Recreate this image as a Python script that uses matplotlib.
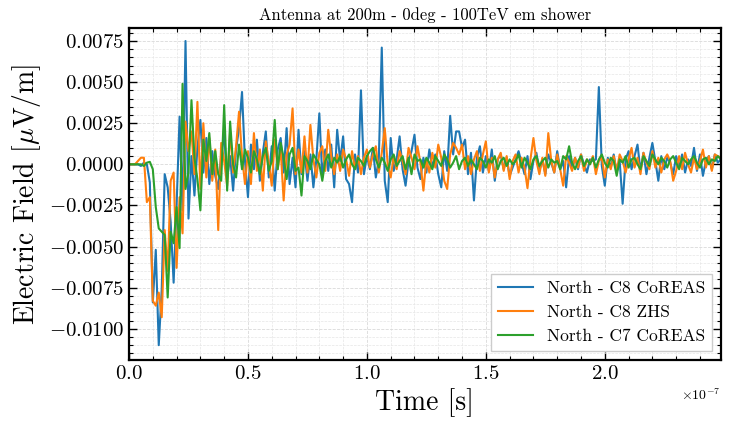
import numpy as np
import matplotlib
matplotlib.use("Agg")
import matplotlib.pyplot as plt
from matplotlib.ticker import MultipleLocator

# sampling grid (ns), 1.25 ns steps
tiempo_ns = np.arange(0, 250, 1.25)

# field values in units of 1e-3 uV/m
c8_coreas = [
    0, 0, 0, 0, -0.1, 0.1, 0.0, -1.1, -8.4, -5.2,
    -11.0, -7.6, -0.6, -1.4, -3.5, -7.2, -2.5, 2.9, -2.8, 7.5,
    -3.3, 0.5, -1.9, 1.0, 2.7, -0.5, 1.6, -1.2, 0.8, -0.7,
    -1.5, 0.6, 1.8, -0.9, 0.5, -1.6, 0.9, 2.2, 4.4, 0.2,
    -2.0, 1.2, -0.3, 1.5, -1.0, 0.7, 2.0, -0.8, 1.1, -1.6,
    0.9, 1.6, -0.5, 2.2, -1.2, 0.4, -1.4, 2.1, -0.6, 0.8,
    -1.0, 0.6, -1.4, 0.3, 3.1, -0.8, 0.9, -0.4, 1.2, -1.4,
    2.1, 0.2, 1.7, -0.9, -1.2, -2.3, 0.6, -0.5, 4.5, -0.6,
    0.5, -0.3, 1.0, -0.8, 0.3, 7.1, -1.0, -2.3, 1.6, -0.4,
    0.3, 1.7, -0.3, -1.3, 0.2, 0.8, 1.8, -0.2, -0.9, 0.4,
    -0.5, 0.9, -0.2, 0.6, -0.6, -1.4, 0.8, -0.4, 2.95, 0.6,
    2.0, 2.0, 1.0, 1.5, -0.6, 0.7, -2.2, 0.4, 1.1, -0.5,
    0.5, -0.4, 0.9, -1.0, 0.3, 0.6, -0.3, 0.4, -0.7, -0.2,
    0.3, 0.8, 0.1, -0.6, 0.5, -0.9, 0.2, 0.7, -0.4, 0.3,
    -0.6, 0.6, 0.1, -0.5, 0.8, -0.3, 0.2, -1.4, 0.5, -0.2,
    0.4, -0.3, 0.6, 0.0, -0.5, 0.3, 0.2, 0.3, 4.7, -0.1,
    -1.3, 0.4, -0.2, 0.6, -0.5, 0.2, -2.4, 0.3, 0.8, -0.3,
    0.5, 1.2, -0.4, 0.7, -0.6, 0.4, 1.3, 0.2, -1.0, 0.5,
    -0.3, 0.4, 0.1, -0.6, 0.5, -0.2, 0.6, -0.5, 0.3, -0.1,
    1.0, -0.4, 0.6, -0.7, 0.2, 0.5, -0.3, 0.6, 0.1, 0.3,
]

c8_zhs = [
    0, 0, 0, 0.2, 0.4, 0.4, -2.3, -2.0, -8.3, -8.6,
    -7.8, -9.3, -4.0, -6.5, -1.0, -0.5, -6.3, -2.0, -4.2, 2.6,
    0.8, 2.0, -0.6, 3.8, -1.5, 2.5, -0.8, 1.6, -1.0, 0.9,
    -4.0, 1.3, 0.2, -1.3, 2.0, -0.5, 1.1, 3.2, 0.5, -1.2,
    0.8, -1.2, 1.9, -0.4, 0.9, -1.6, 1.4, 0.1, -1.3, 1.5,
    -0.3, 0.9, -2.2, 0.6, 1.2, 3.4, -0.6, 0.9, -0.5, 1.7,
    -0.5, 2.4, 0.3, -0.8, 0.7, 1.1, -0.4, 2.1, 0.5, -0.6,
    0.6, -0.4, 0.9, 0.3, -0.7, 0.8, -0.3, 0.5, -0.6, 0.4,
    0.9, -0.2, 0.6, 1.1, -0.5, 0.7, 2.2, 0.0, -0.8, 0.5,
    -0.3, 0.8, 0.2, -0.6, 1.0, 0.4, -0.3, 1.1, 0.1, -1.6,
    0.3, -0.5, 0.7, -0.2, 1.2, 0.4, -1.0, -1.5, 0.6, 1.3,
    1.0, 0.6, 1.2, -0.3, 0.5, -0.6, 0.3, 0.8, -0.4, 0.6,
    1.4, -0.5, 0.4, -0.8, 0.3, 0.7, -0.4, 0.5, -0.9, 0.2,
    0.6, -0.5, 0.4, -0.2, -1.45, 0.3, 1.6, 0.2, -0.6, 0.4,
    -0.7, 1.9, 0.2, -0.5, 0.6, -0.3, -1.3, 0.5, 0.1, -0.4,
    0.4, -0.2, 0.6, -0.4, 0.3, 0.0, 0.5, -0.6, 0.2, 0.4,
    -0.8, 0.3, -0.3, 0.5, -0.4, 0.6, 0.2, -0.5, 0.3, 1.0,
    -0.2, 0.4, -0.6, 0.7, 0.1, -0.3, 0.8, -0.2, 0.4, -0.5,
    0.3, 0.6, 0.2, -1.0, -0.4, 0.5, -0.3, 0.7, 0.0, -0.5,
    0.4, -0.3, 0.2, 0.9, -0.2, 0.5, -0.4, 0.6, 0.5, 0.4,
]

c7_coreas = [
    0, 0, 0, 0, 0, -0.1, 0.1, 0.15, -0.3, -2.6,
    -3.9, -4.1, -4.3, -8.1, -4.1, -4.8, -2.6, -5.1, 4.9, -1.5,
    -0.5, 3.9, 0.4, -0.9, -2.8, 1.5, 0.2, 1.9, -0.6, 0.8,
    -0.6, -1.0, 3.6, -1.6, 2.6, 0.0, -0.8, 1.2, -0.3, 0.9,
    0.4, -0.5, 0.8, 0.3, -0.6, 0.5, 1.0, -0.4, 0.2, 2.7,
    -0.3, 1.3, 0.4, -0.9, 0.6, 1.0, -0.4, -0.2, -1.9, 0.5,
    0.2, -0.3, 0.6, 0.3, 0.0, -1.0, 0.2, 0.6, -0.2, 0.4,
    0.1, 0.5, -0.2, 0.3, 0.6, 0.0, -0.3, 0.4, 0.2, -0.1,
    0.5, 0.8, 1.0, 0.3, -0.2, 0.4, 0.1, -0.4, 0.3, 0.6,
    -0.1, 0.2, 0.5, -0.3, 0.4, -0.6, 0.6, 0.2, 0.3, -0.2,
    0.4, 0.1, -0.3, 0.5, 0.2, -0.1, 0.6, 0.3, -0.2, 0.1,
    0.5, -0.3, 0.2, 0.4, -0.1, 0.3, 0.0, -0.3, 0.4, 0.2,
    -0.2, 0.3, 0.1, 0.5, -0.3, 0.2, 0.4, -0.1, 0.3, 0.0,
    0.2, 0.6, -0.2, 0.4, 0.1, -0.3, 0.3, 0.5, -0.1, 0.2,
    0.4, -0.2, 0.3, 0.1, 0.2, -0.3, 0.5, 0.3, 1.1, 0.1,
    -0.3, 0.2, 0.5, -0.1, 0.3, 0.0, 0.4, -0.2, 0.3, 0.6,
    0.1, -0.2, 0.4, 0.2, -0.7, 0.3, 0.1, 0.5, -0.2, 0.3,
    0.4, 0.0, -0.3, 0.5, 0.2, -0.1, 0.6, 0.3, 0.0, 0.4,
    0.2, -0.2, 0.3, 0.5, 0.1, -0.3, 0.4, 0.2, 0.0, 0.3,
    0.5, 0.1, -0.2, 0.3, 0.4, 0.0, 0.3, 0.2, 0.5, 0.3,
]

etiquetas = ["North - C8 CoREAS", "North - C8 ZHS", "North - C7 CoREAS"]

plt.rcParams["font.family"] = "serif"
plt.rcParams["font.serif"] = ["cmr10"]
plt.rcParams["mathtext.fontset"] = "cm"
plt.rcParams["axes.formatter.use_mathtext"] = True

tiempo = tiempo_ns * 1e-9

fig, ax = plt.subplots(figsize=(7.31, 4.22), dpi=100)
fig.subplots_adjust(left=0.1765, right=0.986, top=0.934, bottom=0.147)

for serie, nombre in zip([c8_coreas, c8_zhs, c7_coreas], etiquetas):
    ax.plot(tiempo, np.array(serie) * 1e-3, lw=1.5, label=nombre)

# the time axis stops at the last sample
ax.set_xlim(tiempo[0], tiempo[-1])
ax.set_ylim(-0.0119, 0.0083)
ax.yaxis.set_major_locator(MultipleLocator(0.0025))
ax.yaxis.set_minor_locator(MultipleLocator(0.0005))
ax.xaxis.set_major_locator(MultipleLocator(0.5e-7))
ax.xaxis.set_minor_locator(MultipleLocator(0.1e-7))

ax.tick_params(which="both", direction="in", top=True, right=True, labelsize=15)
ax.tick_params(which="major", length=6, width=1)
ax.tick_params(which="minor", length=3, width=0.8)
for lado in ax.spines.values():
    lado.set_linewidth(1.6)
ax.xaxis.get_offset_text().set_fontsize(10)

ax.grid(which="major", color="#d9d9d9", ls="--", lw=0.6)
ax.grid(which="minor", color="#e6e6e6", ls="--", lw=0.5)
ax.set_axisbelow(True)

ax.set_title("Antenna at 200m - 0deg - 100TeV em shower", fontsize=12)
ax.set_xlabel("Time [s]", fontsize=20)
ax.set_ylabel(r"Electric Field [$\mu$V/m]", fontsize=20)

ax.legend(loc="lower right", fontsize=12.5, fancybox=False, edgecolor="#cccccc",
          framealpha=1)

fig.savefig("out.png", dpi=100)
